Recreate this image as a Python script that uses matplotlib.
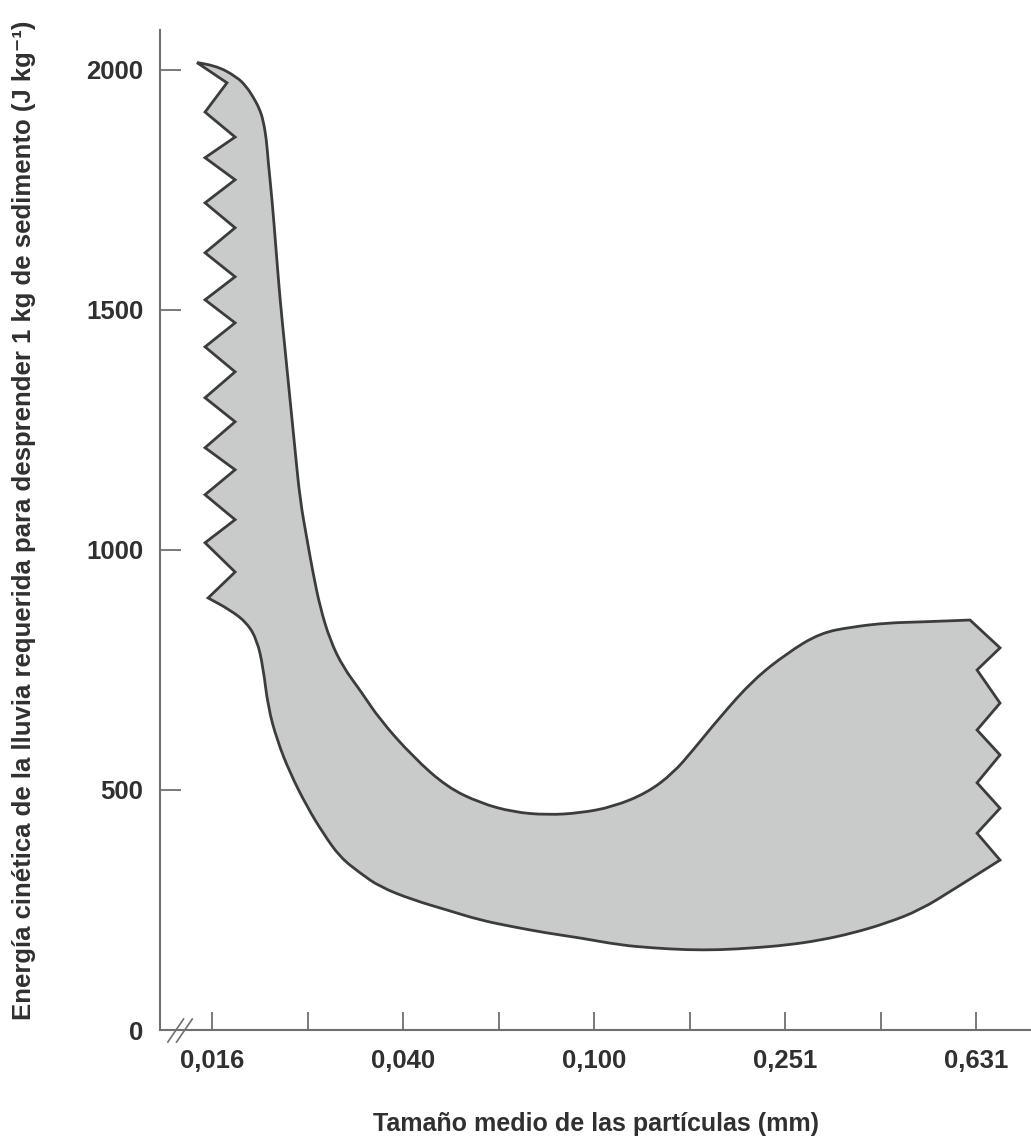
import numpy as np
import matplotlib.pyplot as plt
from matplotlib.path import Path
from matplotlib.patches import PathPatch

# Borde superior de la banda (de izquierda a derecha), x en mm
upper_x = [0.01474, 0.01608, 0.01788, 0.01870, 0.01931, 0.01990, 0.02027, 0.02060,
           0.02076, 0.02117, 0.02158, 0.02200, 0.02254, 0.02309, 0.02365, 0.02423,
           0.02506, 0.02579, 0.02668, 0.02800, 0.02981, 0.03236, 0.03563, 0.04178,
           0.04922, 0.05771, 0.06767, 0.07973, 0.09347, 0.1096, 0.1291, 0.1464,
           0.1612, 0.1836, 0.2153, 0.2537, 0.2974, 0.3487, 0.4108, 0.4817, 0.6130]
upper_y = [2015, 2010, 1985, 1965, 1944, 1920, 1896, 1855,
           1812, 1729, 1625, 1521, 1417, 1312, 1208, 1104,
           1021, 952, 881, 812, 756, 708, 646, 569,
           506, 473, 454, 448, 452, 465, 494, 535,
           583, 652, 729, 785, 827, 840, 848, 850, 854]

# Borde derecho en zigzag (de arriba abajo)
right_x = [0.7085, 0.6341, 0.7085, 0.6341, 0.7085, 0.6341, 0.7085, 0.6341, 0.7085]
right_y = [796, 750, 681, 625, 573, 515, 462, 410, 354]

# Borde inferior (de derecha a izquierda)
lower_x = [0.5647, 0.4817, 0.4108, 0.3487, 0.2974, 0.2537, 0.2153, 0.1836,
           0.1566, 0.1329, 0.1134, 0.09347, 0.07973, 0.06767, 0.05771, 0.04922,
           0.04178, 0.03563, 0.03236, 0.02938, 0.02707, 0.02506, 0.02309, 0.02168,
           0.02076, 0.02027, 0.01969, 0.01876, 0.01729, 0.01555]
lower_y = [292, 250, 223, 202, 187, 177, 171, 167,
           167, 171, 177, 192, 202, 215, 229, 250,
           271, 298, 327, 360, 410, 465, 535, 604,
           673, 756, 812, 848, 875, 900]

# Borde izquierdo en zigzag (de abajo arriba)
left_x = [0.01771, 0.01532, 0.01771, 0.01532, 0.01771, 0.01532, 0.01771, 0.01532,
          0.01771, 0.01532, 0.01771, 0.01532, 0.01771, 0.01532, 0.01771, 0.01532,
          0.01771, 0.01532, 0.01771, 0.01532, 0.01703]
left_y = [954, 1015, 1063, 1115, 1167, 1213, 1267, 1317,
          1371, 1423, 1473, 1521, 1569, 1619, 1671, 1723,
          1771, 1817, 1860, 1912, 1973]

x_major = [0.01585, 0.03981, 0.1, 0.2512, 0.631]
x_labels = ['0,016', '0,040', '0,100', '0,251', '0,631']
x_minor = [0.02512, 0.06310, 0.1585, 0.3981]
y_ticks = [0, 500, 1000, 1500, 2000]

plt.rcParams['font.family'] = ['Liberation Sans', 'DejaVu Sans']
txt = '#303030'
axc = '#707070'


def add_smooth(xs, ys, verts, codes):
    # curvas cuadráticas por los puntos medios (x en escala log)
    for i in range(1, len(xs) - 1):
        mx = np.sqrt(xs[i] * xs[i + 1])
        my = (ys[i] + ys[i + 1]) / 2
        verts += [(xs[i], ys[i]), (mx, my)]
        codes += [Path.CURVE3, Path.CURVE3]
    verts.append((xs[-1], ys[-1]))
    codes.append(Path.LINETO)


fig = plt.figure(figsize=(10.31, 11.45), dpi=100)
ax = fig.add_axes([0.1552, 0.1004, 0.8448, 0.8734])

verts = [(upper_x[0], upper_y[0])]
codes = [Path.MOVETO]
add_smooth(upper_x, upper_y, verts, codes)
for x, y in zip(right_x, right_y):
    verts.append((x, y))
    codes.append(Path.LINETO)
add_smooth([right_x[-1]] + lower_x, [right_y[-1]] + lower_y, verts, codes)
for x, y in zip(left_x, left_y):
    verts.append((x, y))
    codes.append(Path.LINETO)
verts.append((upper_x[0], upper_y[0]))
codes.append(Path.CLOSEPOLY)

band = PathPatch(Path(verts, codes), facecolor='#c9cbcb', edgecolor='#3c3c3c',
                 linewidth=2.0, joinstyle='miter', transform=ax.transData)
ax.add_patch(band)

ax.set_xscale('log')
ax.set_xlim(0.01233, 0.8226)
ax.set_ylim(0, 2083)

ax.set_xticks(x_major)
ax.set_xticklabels(x_labels, fontweight='bold')
ax.set_xticks(x_minor, minor=True)
ax.set_xticklabels([], minor=True)
ax.set_yticks(y_ticks)
ax.set_yticklabels([str(v) for v in y_ticks], fontweight='bold')

ax.tick_params(axis='both', which='both', direction='in', colors=axc,
               labelcolor=txt, labelsize=18.5, width=1.3)
ax.tick_params(axis='x', which='both', length=13, pad=14)
ax.tick_params(axis='y', length=15, pad=12)

for s in ['top', 'right']:
    ax.spines[s].set_visible(False)
for s in ['left', 'bottom']:
    ax.spines[s].set_color(axc)
    ax.spines[s].set_linewidth(1.5)

# marca de corte del eje
for x0 in (0.009, 0.019):
    ax.plot([x0, x0 + 0.018], [-0.012, 0.011], transform=ax.transAxes,
            color=axc, lw=1.2, clip_on=False)

ax.set_xlabel('Tamaño medio de las partículas (mm)', fontsize=18,
              fontweight='bold', color=txt)
ax.xaxis.set_label_coords(0.5, -0.082)
ax.set_ylabel('Energía cinética de la lluvia requerida para desprender 1 kg de sedimento (J kg⁻¹)',
              fontsize=18.5, fontweight='bold', color=txt)
ax.yaxis.set_label_coords(-0.142, 0.51)

fig.savefig('out.png', dpi=100)
